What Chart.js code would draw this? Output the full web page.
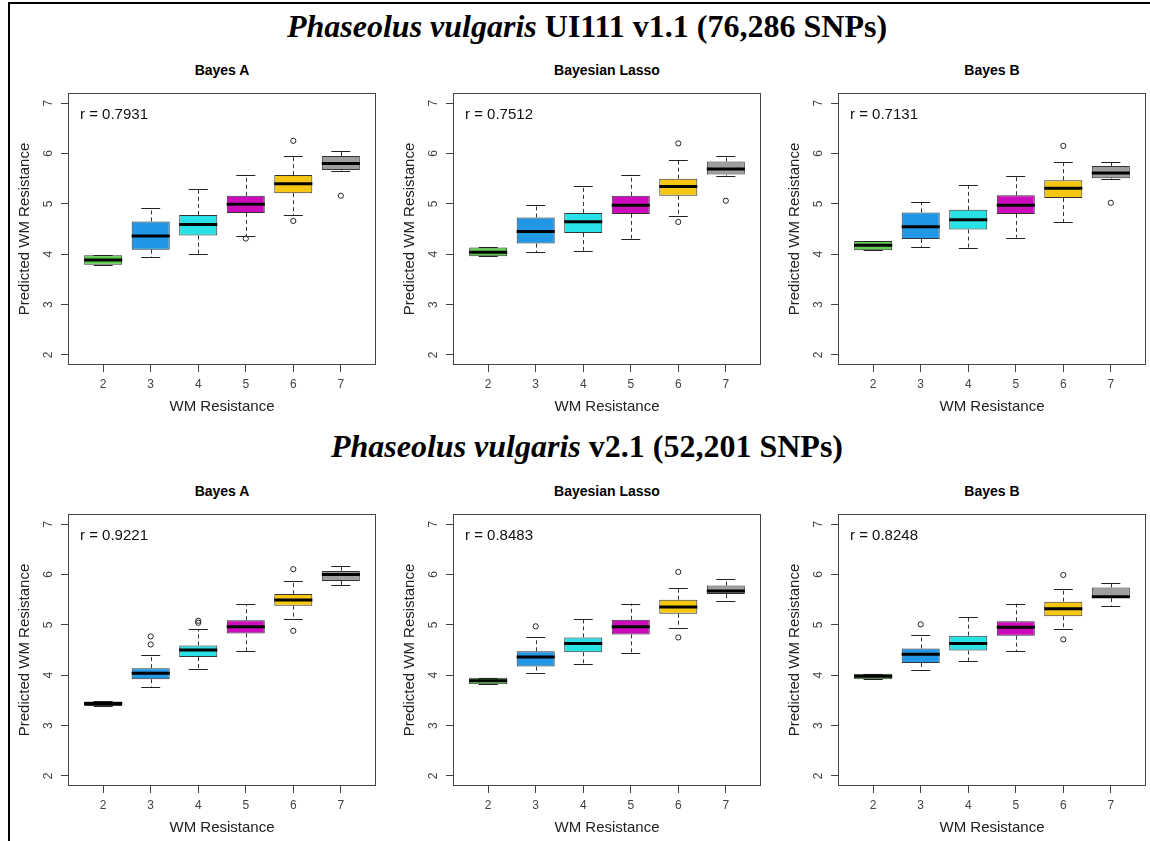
<!DOCTYPE html>
<html>
<head>
<meta charset="utf-8">
<script src="https://cdn.jsdelivr.net/npm/chart.js@4.4.0/dist/chart.umd.min.js"></script>
<style>
  html, body { margin: 0; padding: 0; background: #fff; }
  body { width: 1150px; height: 841px; position: relative; overflow: hidden;
         font-family: "Liberation Sans", Arial, sans-serif; }
  .frame { position: absolute; left: 8px; top: 2px; width: 1160px; height: 860px;
           border-top: 2px solid #000; border-left: 2px solid #000; }
  .main { position: absolute; left: 0; width: 1174px; text-align: center;
          font-family: "Liberation Serif", "Times New Roman", serif; font-weight: bold;
          font-size: 32px; line-height: 40px; color: #000; white-space: nowrap; }
  .sub { position: absolute; width: 308px; text-align: center; font-weight: bold;
         font-size: 14px; line-height: 18px; color: #000; }
  canvas { position: absolute; }
</style>
</head>
<body>
<div class="frame"></div>
<div class="main" style="top:6px"><i>Phaseolus vulgaris</i> UI111 v1.1 (76,286 SNPs)</div>
<div class="main" style="top:426px"><i>Phaseolus vulgaris</i> v2.1 (52,201 SNPs)</div>
<script>
// Observed WM resistance classes and predicted-score axis ticks
const categories = ['2', '3', '4', '5', '6', '7'];
const yTicks = [2, 3, 4, 5, 6, 7];
const boxColors = ['#61D04F', '#2297E6', '#28E2E5', '#CD0BBC', '#F5C710', '#9E9E9E'];
const methodNames = ['Bayes A', 'Bayesian Lasso', 'Bayes B'];
const rValues = ['0.7931', '0.7512', '0.7131', '0.9221', '0.8483', '0.8248'];

// Five-number summaries per class: [min, q1, median, q3, max]
const v1BayesA = [
  [3.79, 3.79, 3.885, 3.98, 3.98],
  [3.94, 4.09, 4.36, 4.65, 4.91],
  [4.00, 4.37, 4.59, 4.78, 5.29],
  [4.36, 4.82, 4.99, 5.16, 5.58],
  [4.77, 5.21, 5.40, 5.57, 5.94],
  [5.66, 5.67, 5.80, 5.95, 6.04]
];
const v1BayesAOut = [[], [], [], [4.31], [6.25, 4.66], [5.16]];

const v1Lasso = [
  [3.96, 3.96, 4.04, 4.135, 4.135],
  [4.04, 4.21, 4.45, 4.73, 4.98],
  [4.07, 4.42, 4.645, 4.82, 5.35],
  [4.31, 4.80, 4.97, 5.16, 5.58],
  [4.76, 5.16, 5.345, 5.50, 5.875],
  [5.56, 5.58, 5.69, 5.84, 5.95]
];
const v1LassoOut = [[], [], [], [], [6.20, 4.64], [5.06]];

const v1BayesB = [
  [4.08, 4.08, 4.175, 4.26, 4.26],
  [4.14, 4.30, 4.545, 4.83, 5.03],
  [4.12, 4.49, 4.685, 4.88, 5.38],
  [4.33, 4.80, 4.97, 5.17, 5.56],
  [4.64, 5.115, 5.31, 5.47, 5.83],
  [5.50, 5.51, 5.61, 5.75, 5.84]
];
const v1BayesBOut = [[], [], [], [], [6.15], [5.02]];

const v2BayesA = [
  [3.39, 3.39, 3.44, 3.48, 3.48],
  [3.77, 3.92, 4.04, 4.14, 4.40],
  [4.12, 4.36, 4.50, 4.59, 4.91],
  [4.48, 4.83, 4.96, 5.09, 5.41],
  [5.11, 5.38, 5.495, 5.61, 5.87],
  [5.79, 5.87, 6.00, 6.07, 6.16]
];
const v2BayesAOut = [[], [4.77, 4.61], [5.08, 5.04], [], [6.105, 4.88], []];

const v2Lasso = [
  [3.82, 3.82, 3.89, 3.95, 3.95],
  [4.05, 4.17, 4.36, 4.475, 4.75],
  [4.22, 4.455, 4.63, 4.75, 5.11],
  [4.435, 4.81, 4.96, 5.10, 5.42],
  [4.945, 5.22, 5.355, 5.50, 5.73],
  [5.48, 5.61, 5.67, 5.78, 5.90]
];
const v2LassoOut = [[], [4.97], [], [], [6.05, 4.75], []];

const v2BayesB = [
  [3.92, 3.92, 3.98, 4.03, 4.03],
  [4.10, 4.24, 4.415, 4.53, 4.79],
  [4.28, 4.49, 4.63, 4.785, 5.15],
  [4.475, 4.785, 4.95, 5.07, 5.42],
  [4.91, 5.17, 5.32, 5.46, 5.71],
  [5.38, 5.53, 5.555, 5.74, 5.83]
];
const v2BayesBOut = [[], [5.01], [], [], [5.99, 4.71], []];

const panelStats = [v1BayesA, v1Lasso, v1BayesB, v2BayesA, v2Lasso, v2BayesB];
const panelOutliers = [v1BayesAOut, v1LassoOut, v1BayesBOut, v2BayesAOut, v2LassoOut, v2BayesBOut];

// Panel geometry (plot frame position and size)
const plotLeft = [68, 453, 838];
const plotTop = [93, 514];
const plotW = 308, plotH = 272;
const axisW = 60, axisH = 52, padTop = 10, padRight = 10;
const sansFamily = '"Liberation Sans", Arial, sans-serif';

// Whiskers, staples, medians, frame, rotated y labels and r annotation
function makeBoxPlugin(stats, r) {
  return {
    id: 'boxParts',
    afterDatasetsDraw(chart) {
      const { ctx, scales: { x, y } } = chart;
      const bars = chart.getDatasetMeta(0).data;
      ctx.save();
      stats.forEach((s, i) => {
        const bar = bars[i];
        const cx = Math.round(bar.x) + 0.5;
        const hw = bar.width / 2;
        const [lo, q1, md, q3, hi] = s.map(v => y.getPixelForValue(v));
        ctx.strokeStyle = '#333';
        ctx.lineWidth = 1;
        ctx.setLineDash([4, 3]);
        ctx.beginPath();
        ctx.moveTo(cx, q3); ctx.lineTo(cx, hi);
        ctx.moveTo(cx, q1); ctx.lineTo(cx, lo);
        ctx.stroke();
        ctx.setLineDash([]);
        ctx.strokeStyle = '#222';
        ctx.beginPath();
        ctx.moveTo(bar.x - hw / 2, Math.round(hi) + 0.5); ctx.lineTo(bar.x + hw / 2, Math.round(hi) + 0.5);
        ctx.moveTo(bar.x - hw / 2, Math.round(lo) + 0.5); ctx.lineTo(bar.x + hw / 2, Math.round(lo) + 0.5);
        ctx.stroke();
        ctx.strokeStyle = '#000';
        ctx.lineWidth = 3;
        ctx.beginPath();
        ctx.moveTo(bar.x - hw, md); ctx.lineTo(bar.x + hw, md);
        ctx.stroke();
      });
      ctx.restore();
    },
    afterDraw(chart) {
      const { ctx, chartArea: a, scales: { y } } = chart;
      ctx.save();
      ctx.strokeStyle = '#444';
      ctx.lineWidth = 1;
      ctx.strokeRect(Math.round(a.left) + 0.5, Math.round(a.top) + 0.5,
                     Math.round(a.right - a.left) - 1, Math.round(a.bottom - a.top) - 1);
      ctx.fillStyle = '#444';
      ctx.font = '12px ' + sansFamily;
      ctx.textAlign = 'center';
      ctx.textBaseline = 'middle';
      yTicks.forEach(v => {
        ctx.save();
        ctx.translate(a.left - 19, y.getPixelForValue(v));
        ctx.rotate(-Math.PI / 2);
        ctx.fillText(String(v), 0, 0);
        ctx.restore();
      });
      ctx.fillStyle = '#111';
      ctx.font = '15px ' + sansFamily;
      ctx.textAlign = 'left';
      ctx.fillText('r = ' + r, a.left + 12, a.top + 22);
      ctx.restore();
    }
  };
}

function makeChart(idx) {
  const col = idx % 3, row = Math.floor(idx / 3);
  const canvas = document.createElement('canvas');
  const cw = axisW + plotW + padRight, ch = padTop + plotH + axisH;
  canvas.width = cw; canvas.height = ch;
  canvas.style.left = (plotLeft[col] - axisW) + 'px';
  canvas.style.top = (plotTop[row] - padTop) + 'px';
  canvas.style.width = cw + 'px'; canvas.style.height = ch + 'px';
  document.body.appendChild(canvas);

  const sub = document.createElement('div');
  sub.className = 'sub';
  sub.style.left = plotLeft[col] + 'px';
  sub.style.top = (plotTop[row] - 32) + 'px';
  sub.textContent = methodNames[col];
  document.body.appendChild(sub);

  const stats = panelStats[idx];
  const outPts = [];
  panelOutliers[idx].forEach((arr, i) => arr.forEach(v => outPts.push({ x: i + 1, y: v })));
  const xPos = categories.map((c, i) => i + 1);

  new Chart(canvas, {
    type: 'bar',
    data: {
      datasets: [
        {
          type: 'bar',
          data: stats.map((s, i) => ({ x: i + 1, y: [s[1], s[3]] })),
          backgroundColor: boxColors,
          borderColor: '#333',
          borderWidth: 1,
          borderSkipped: false,
          barPercentage: 0.8,
          categoryPercentage: 1,
          order: 1
        },
        {
          type: 'scatter',
          data: outPts,
          pointStyle: 'circle',
          pointRadius: 2.6,
          pointBorderWidth: 1,
          pointBorderColor: '#222',
          pointBackgroundColor: 'rgba(0,0,0,0)',
          order: 0
        }
      ]
    },
    options: {
      responsive: false,
      animation: false,
      events: [],
      layout: { padding: { left: 0, top: padTop, right: padRight, bottom: 0 } },
      plugins: { legend: { display: false }, tooltip: { enabled: false } },
      scales: {
        x: {
          type: 'linear', min: 0.26, max: 6.74, offset: false,
          afterBuildTicks: s => { s.ticks = xPos.map(v => ({ value: v })); },
          afterFit: s => { s.height = axisH; },
          ticks: {
            callback: v => categories[Math.round(v) - 1],
            font: { size: 12, family: sansFamily }, color: '#444', padding: 5,
            autoSkip: false, maxRotation: 0, minRotation: 0
          },
          grid: { offset: false, drawOnChartArea: false, drawTicks: true, tickLength: 7, color: '#444' },
          border: { display: false },
          title: { display: true, text: 'WM Resistance', color: '#222',
                   font: { size: 15, family: sansFamily }, padding: { top: 0, bottom: 1 } }
        },
        y: {
          type: 'linear', min: 1.8, max: 7.2,
          afterBuildTicks: s => { s.ticks = yTicks.map(v => ({ value: v })); },
          afterFit: s => { s.width = axisW; },
          ticks: { display: false },
          grid: { drawOnChartArea: false, drawTicks: true, tickLength: 7, color: '#444' },
          border: { display: false },
          title: { display: true, text: 'Predicted WM Resistance', color: '#222',
                   font: { size: 15, family: sansFamily }, padding: { top: 8, bottom: 0 } }
        }
      }
    },
    plugins: [makeBoxPlugin(stats, rValues[idx])]
  });
}

for (let i = 0; i < 6; i++) makeChart(i);
</script>
</body>
</html>
